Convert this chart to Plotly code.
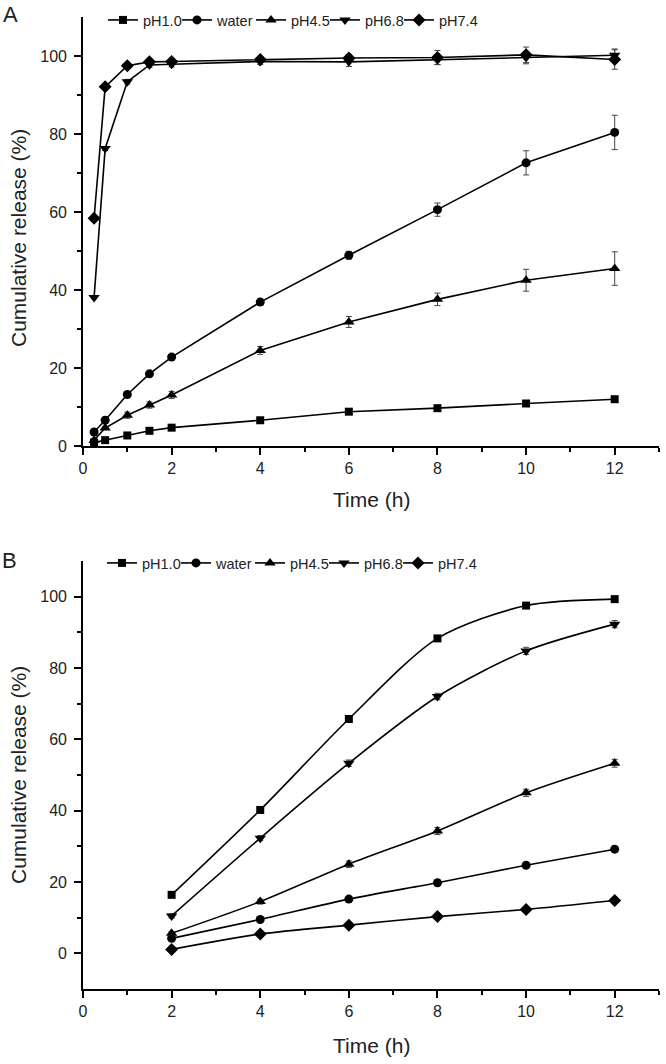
import plotly.graph_objects as go

# ---------------- data ----------------
series_names = ["pH1.0", "water", "pH4.5", "pH6.8", "pH7.4"]
series_symbols = ["square", "circle", "triangle-up", "triangle-down", "diamond"]

time_a = [0.25, 0.5, 1, 1.5, 2, 4, 6, 8, 10, 12]
a_ph10 = [0.9, 1.5, 2.7, 3.9, 4.7, 6.6, 8.8, 9.7, 10.9, 12.0]
a_water = [3.6, 6.6, 13.2, 18.5, 22.8, 36.9, 48.9, 60.6, 72.6, 80.4]
a_ph45 = [1.5, 4.6, 7.9, 10.5, 13.1, 24.5, 31.8, 37.6, 42.5, 45.5]
a_ph68 = [38.1, 76.3, 93.4, 97.7, 97.9, 98.6, 98.5, 99.0, 99.6, 100.2]
a_ph74 = [58.4, 92.1, 97.5, 98.5, 98.6, 99.1, 99.5, 99.6, 100.3, 99.1]

a_ph10_err = [0.1, 0.2, 0.2, 0.3, 0.3, 0.4, 0.4, 0.5, 0.5, 0.6]
a_water_err = [0.3, 0.4, 0.5, 0.6, 0.7, 0.8, 1.0, 1.7, 3.1, 4.4]
a_ph45_err = [0.3, 0.4, 0.8, 0.8, 0.9, 1.0, 1.4, 1.6, 2.8, 4.3]
a_ph68_err = [0.3, 0.5, 0.6, 0.6, 0.7, 0.8, 1.2, 1.2, 1.6, 1.6]
a_ph74_err = [0.3, 0.4, 0.5, 0.6, 0.6, 0.7, 0.9, 1.8, 2.0, 2.5]

time_b = [2, 4, 6, 8, 10, 12]
b_ph10 = [16.4, 40.2, 65.7, 88.3, 97.5, 99.3]
b_water = [4.2, 9.5, 15.2, 19.8, 24.7, 29.2]
b_ph45 = [5.6, 14.5, 25.0, 34.3, 45.0, 53.3]
b_ph68 = [10.5, 32.3, 53.3, 72.0, 84.8, 92.3]
b_ph74 = [1.1, 5.4, 7.9, 10.3, 12.3, 14.8]

b_ph10_err = [0.5, 0.6, 0.7, 0.7, 0.8, 0.8]
b_water_err = [0.4, 0.5, 0.6, 0.6, 0.7, 0.8]
b_ph45_err = [0.5, 0.7, 0.9, 1.0, 1.0, 1.1]
b_ph68_err = [0.6, 0.7, 0.9, 0.9, 1.0, 1.0]
b_ph74_err = [0.3, 0.4, 0.5, 0.5, 0.6, 0.6]

x_ticks = [0, 2, 4, 6, 8, 10, 12]
x_minor = [1, 3, 5, 7, 9, 11, 13]
y_ticks = [0, 20, 40, 60, 80, 100]
y_minor = [10, 30, 50, 70, 90]

# ---------------- figure ----------------
W, H = 666, 1064
FONT = "Liberation Sans, Arial, sans-serif"
TXT = "#222222"
fig = go.Figure()

def px(x):   # screen x -> paper fraction
    return x / W

def py(y):   # screen y -> paper fraction
    return 1 - y / H

a_vals = [a_ph10, a_water, a_ph45, a_ph68, a_ph74]
a_errs = [a_ph10_err, a_water_err, a_ph45_err, a_ph68_err, a_ph74_err]
b_vals = [b_ph10, b_water, b_ph45, b_ph68, b_ph74]
b_errs = [b_ph10_err, b_water_err, b_ph45_err, b_ph68_err, b_ph74_err]

msize = {"square": 8, "circle": 9, "triangle-up": 10, "triangle-down": 10, "diamond": 10}

for name, sym, vals, errs in zip(series_names, series_symbols, a_vals, a_errs):
    fig.add_trace(go.Scatter(
        x=time_a, y=vals, name=name, mode="lines+markers",
        line=dict(color="black", width=1.6),
        marker=dict(symbol=sym, size=msize[sym], color="black"),
        error_y=dict(type="data", array=errs, visible=True, color="#444444",
                     thickness=1, width=3),
        xaxis="x", yaxis="y", legend="legend",
    ))

for name, sym, vals, errs in zip(series_names, series_symbols, b_vals, b_errs):
    fig.add_trace(go.Scatter(
        x=time_b, y=vals, name=name, mode="lines+markers",
        line=dict(color="black", width=1.6, shape="spline", smoothing=0.8),
        marker=dict(symbol=sym, size=msize[sym], color="black"),
        error_y=dict(type="data", array=errs, visible=True, color="#444444",
                     thickness=1, width=3),
        xaxis="x2", yaxis="y2", legend="legend2",
    ))

# empty spacer entries so the last legend label is not clipped
for ax, ay, lg in (("x", "y", "legend"), ("x2", "y2", "legend2")):
    fig.add_trace(go.Scatter(
        x=[None], y=[None], name=" ", mode="lines",
        line=dict(color="rgba(0,0,0,0)", width=0),
        xaxis=ax, yaxis=ay, legend=lg, hoverinfo="skip",
    ))

x_dom = [px(83), px(659)]
ya = [py(446), py(17)]
yb = [py(989), py(561)]

def xaxis(anchor):
    return dict(
        domain=x_dom, anchor=anchor, range=[0, 13], automargin=False,
        tickmode="array", tickvals=x_ticks, ticktext=[str(v) for v in x_ticks],
        ticks="outside", ticklen=7, tickwidth=1.5, tickcolor="black",
        showline=True, linecolor="black", linewidth=1.6, showgrid=False,
        zeroline=False, tickfont=dict(family=FONT, size=16, color=TXT),
        minor=dict(tickmode="array", tickvals=x_minor, ticks="outside",
                   ticklen=4, tickwidth=1.5, tickcolor="black", showgrid=False),
    )

def yaxis(anchor, dom, rng):
    return dict(
        domain=dom, anchor=anchor, range=rng, automargin=False,
        tickmode="array", tickvals=y_ticks, ticktext=[str(v) for v in y_ticks],
        ticks="outside", ticklen=7, tickwidth=1.5, tickcolor="black",
        showline=True, linecolor="black", linewidth=1.6, showgrid=False,
        zeroline=False, tickfont=dict(family=FONT, size=16, color=TXT),
        ticklabelstandoff=4,
        minor=dict(tickmode="array", tickvals=y_minor, ticks="outside",
                   ticklen=4, tickwidth=1.5, tickcolor="black", showgrid=False),
    )

leg_common = dict(
    orientation="h", xanchor="left", yanchor="middle",
    font=dict(family=FONT, size=14.5, color=TXT),
    bgcolor="rgba(0,0,0,0)", borderwidth=0,
    entrywidth=29, entrywidthmode="pixels", itemwidth=30,
    tracegroupgap=0,
)

def label(text, x, y, size, angle=0):
    return dict(text=text, x=px(x), y=py(y), xref="paper", yref="paper",
                xanchor="center", yanchor="middle", showarrow=False,
                textangle=angle, font=dict(family=FONT, size=size, color=TXT))

fig.update_layout(
    width=W, height=H,
    margin=dict(l=0, r=0, t=0, b=0, autoexpand=False),
    paper_bgcolor="white", plot_bgcolor="white",
    showlegend=True,
    xaxis=xaxis("y"),
    yaxis=yaxis("x", ya, [0, 110]),
    xaxis2=xaxis("y2"),
    yaxis2=yaxis("x2", yb, [-10, 110]),
    legend=dict(x=px(103), y=py(20), **leg_common),
    legend2=dict(x=px(102), y=py(563), **leg_common),
    annotations=[
        label("A", 10, 14, 22),
        label("B", 9, 560, 22),
        label("Cumulative release (%)", 18, 238, 21, -90),
        label("Cumulative release (%)", 18, 775, 21, -90),
        label("Time (h)", 371, 499, 21),
        label("Time (h)", 371, 1045, 21),
    ],
)

fig.write_html(
    "out.html",
    config={"displayModeBar": False},
    post_script="document.body.style.margin='0px';"
                "document.body.style.overflow='hidden';",
)
